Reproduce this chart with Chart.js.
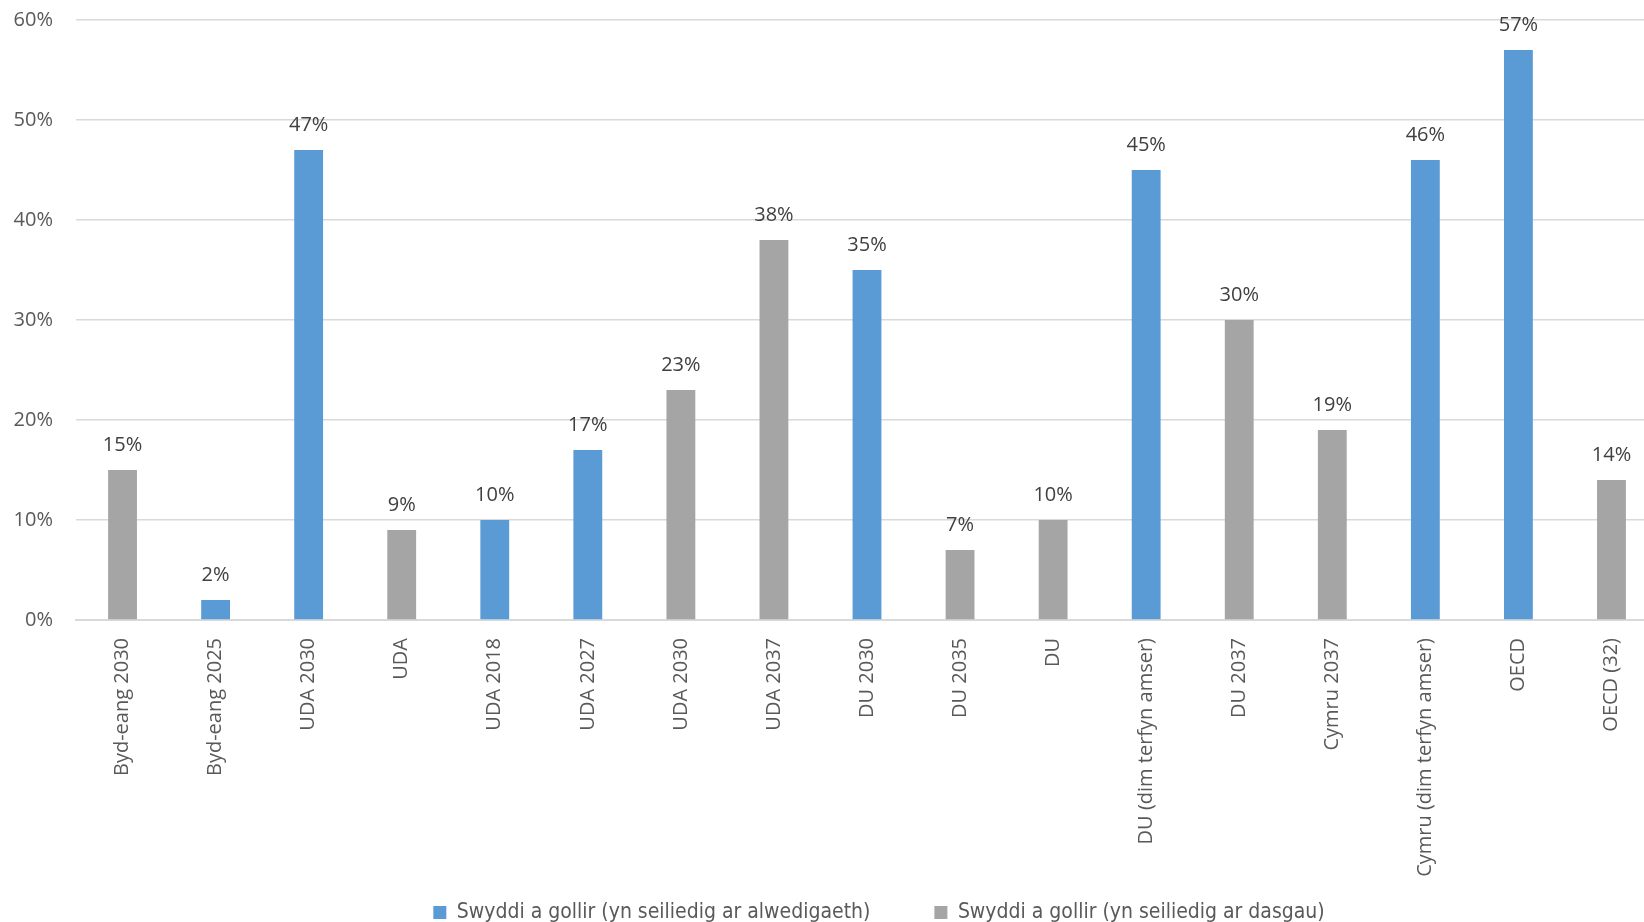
<!DOCTYPE html>
<html>
<head>
<meta charset="utf-8">
<script src="https://cdn.jsdelivr.net/npm/chart.js@4.4.1/dist/chart.umd.min.js"></script>
<style>
  html, body { margin: 0; padding: 0; background: #fff; overflow: hidden; }
  #wrap { width: 1754px; height: 933px; }
</style>
</head>
<body>
<div id="wrap"><canvas id="myChart" width="1754" height="933"></canvas></div>
<script>
const categories = [
  'Byd-eang 2030', 'Byd-eang 2025', 'UDA 2030', 'UDA', 'UDA 2018', 'UDA 2027',
  'UDA 2030', 'UDA 2037', 'DU 2030', 'DU 2035', 'DU', 'DU (dim terfyn amser)',
  'DU 2037', 'Cymru 2037', 'Cymru (dim terfyn amser)', 'OECD', 'OECD (32)'
];
// occupation based (blue)
const occupationValues = [null, 2, 47, null, 10, 17, null, null, 35, null, null, 45, null, null, 46, 57, null];
// task based (grey)
const taskValues = [15, null, null, 9, null, null, 23, 38, null, 7, 10, null, 30, 19, null, null, 14];
const seriesNames = [
  'Swyddi a gollir (yn seiliedig ar alwedigaeth)',
  'Swyddi a gollir (yn seiliedig ar dasgau)'
];
const yMax = 60;
const yStep = 10;

// draws the "47%" labels above the bars
const valueLabels = {
  id: 'valueLabels',
  afterDatasetsDraw(chart) {
    const ctx = chart.ctx;
    ctx.save();
    ctx.font = '20px "Open Sans"';
    ctx.fillStyle = '#404040';
    ctx.textAlign = 'center';
    ctx.textBaseline = 'middle';
    chart.data.datasets.forEach((ds, i) => {
      chart.getDatasetMeta(i).data.forEach((bar, j) => {
        const v = ds.data[j];
        if (v === null) return;
        ctx.fillText(v + '%', bar.x, bar.y - 25);
      });
    });
    ctx.restore();
  }
};

// legend sits a bit right of centre in the original
const legendShift = {
  id: 'legendShift',
  afterLayout(chart) {
    chart.legend.left += 50;
    chart.legend.right += 50;
  }
};

const ctx = document.getElementById('myChart').getContext('2d');
const chart = new Chart(ctx, {
  type: 'bar',
  data: {
    labels: categories,
    datasets: [{
      label: seriesNames[0],
      data: occupationValues,
      backgroundColor: '#5B9BD5',
      borderWidth: 0
    }, {
      label: seriesNames[1],
      data: taskValues,
      backgroundColor: '#A5A5A5',
      borderWidth: 0
    }]
  },
  plugins: [valueLabels, legendShift],
  options: {
    responsive: false,
    animation: false,
    grouped: false,
    categoryPercentage: 1,
    barPercentage: 0.31,
    layout: {
      padding: { left: 0, right: 96, top: 20, bottom: 0 }
    },
    plugins: {
      tooltip: { enabled: false },
      legend: {
        position: 'bottom',
        labels: {
          color: '#595959',
          font: { family: '"Liberation Sans Narrow", "DejaVu Sans Condensed", sans-serif', size: 21 },
          boxWidth: 13,
          boxHeight: 13,
          padding: 10,
          generateLabels(chart) {
            const items = Chart.defaults.plugins.legend.labels.generateLabels(chart);
            items[0].text += ' '.repeat(9);
            return items;
          }
        }
      }
    },
    scales: {
      x: {
        grid: { display: false, drawTicks: false },
        border: { display: true, color: '#d9d9d9', width: 2 },
        ticks: {
          color: '#595959',
          font: { family: '"Open Sans"', size: 20 },
          minRotation: 90,
          maxRotation: 90,
          autoSkip: false,
          padding: 18
        },
        afterFit(scale) { scale.height = 272; }
      },
      y: {
        min: 0,
        max: yMax,
        grid: { color: '#d9d9d9', lineWidth: 1.5, drawTicks: true, tickLength: 20, tickColor: 'transparent' },
        border: { display: false },
        ticks: {
          stepSize: yStep,
          color: '#595959',
          font: { family: '"Open Sans"', size: 20 },
          padding: 3,
          callback: v => v + '%'
        },
        afterFit(scale) { scale.width = 76; }
      }
    }
  }
});
</script>
</body>
</html>
